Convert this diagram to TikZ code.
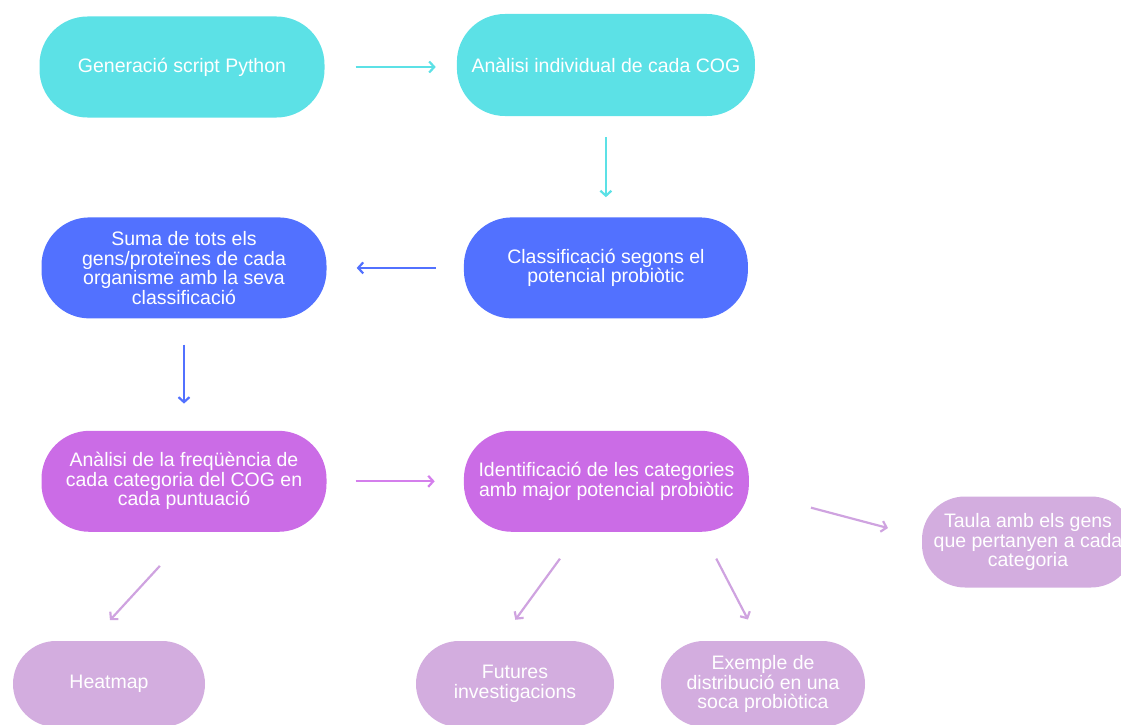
\documentclass[tikz,border=0pt]{standalone}
\usepackage{fontspec}
\setmainfont{Liberation Sans}
\usetikzlibrary{positioning,calc,arrows.meta}

\definecolor{cogcyan}{HTML}{5CE1E6}
\definecolor{cogblue}{HTML}{5271FF}
\definecolor{cogpurple}{HTML}{CB6CE6}
\definecolor{coglilac}{HTML}{D3ADDF}
\definecolor{arrowpurple}{HTML}{D47FEC}
\definecolor{arrowlilac}{HTML}{CFA3E0}

\begin{document}
\begin{tikzpicture}[
  pill/.style={rectangle, rounded corners=48pt, text=white, align=center, inner sep=0pt,
    font=\fontsize{19.5}{19.5}\selectfont, minimum width=285pt, minimum height=101pt},
  smallpill/.style={pill, rounded corners=43pt, fill=coglilac, minimum height=86pt},
  link/.style={line width=2.2pt, -{Straight Barb[length=5pt,width=11pt]}}]

  \useasboundingbox (0,0) rectangle (1121pt,-725pt);

  \node[pill, fill=cogcyan] (gen) at (182pt,-67pt) {Generació script Python};
  \node[pill, fill=cogcyan, minimum width=298pt, minimum height=102pt, right=132pt of gen, yshift=2pt] (anal) {Anàlisi individual de cada COG};
  \node[pill, fill=cogblue, minimum width=284pt, below=101pt of anal] (classif) {Classificació segons el\\potencial probiòtic};
  \node[pill, fill=cogblue, left=137pt of classif] (suma) {Suma de tots els\\gens/proteïnes de cada\\organisme amb la seva\\classificació};
  \node[pill, fill=cogpurple, below=112pt of suma] (freq) {Anàlisi de la freqüència de\\cada categoria del COG en\\cada puntuació};
  \node[pill, fill=cogpurple, right=137pt of freq] (ident) {Identificació de les categories\\amb major potencial probiòtic};
  \node[smallpill, minimum width=212pt, minimum height=91pt] (taula) at (1028pt,-542pt) {Taula amb els gens\\que pertanyen a cada\\categoria};
  \node[smallpill, minimum width=192pt] (heat) at (109pt,-684pt) {Heatmap};
  \node[smallpill, minimum width=198pt] (fut) at (515pt,-684pt) {Futures\\investigacions};
  \node[smallpill, minimum width=204pt] (exem) at (763pt,-684pt) {Exemple de\\distribució en una\\soca probiòtica};

  \draw[link, cogcyan, shorten <=31pt, shorten >=21pt] (gen.east) -- (gen.east -| anal.west);
  \draw[link, cogcyan, shorten <=21pt, shorten >=20pt] (anal) -- (classif);
  \draw[link, cogblue, shorten <=28pt, shorten >=30pt] (classif) -- (suma);
  \draw[link, cogblue, shorten <=26pt, shorten >=27pt] (suma) -- (freq);
  \draw[link, arrowpurple, shorten <=29pt, shorten >=29pt] (freq) -- (ident);
  \draw[link, arrowlilac, shorten <=64pt, shorten >=35pt] ($(ident.east)+(0,-10pt)$) -- ($(taula.west)+(0,5pt)$);
  \draw[link, arrowlilac, shorten <=46pt, shorten >=28pt] ($(freq.south)+(7pt,0)$) -- ($(heat.north)+(-18pt,0)$);
  \draw[link, arrowlilac, shorten <=33pt, shorten >=26pt] ($(ident.south)+(-27pt,0)$) -- ($(fut.north)+(-15pt,0)$);
  \draw[link, arrowlilac, shorten <=30pt, shorten >=24pt] ($(ident.south)+(96pt,0)$) -- ($(exem.north)+(-4pt,0)$);

\end{tikzpicture}
\end{document}
